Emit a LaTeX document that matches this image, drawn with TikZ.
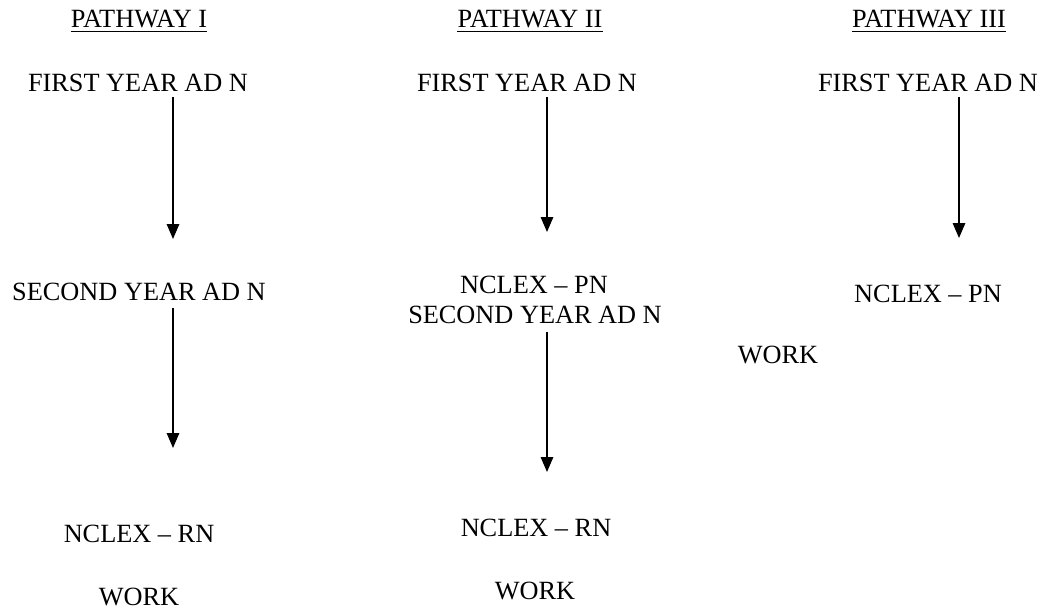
\documentclass[tikz,border=0pt]{standalone}
\usepackage{fontspec}
\setmainfont{Liberation Serif}
\usetikzlibrary{arrows.meta}
\begin{document}
\begin{tikzpicture}[x=1pt,y=-1pt,
  lbl/.style={anchor=base,inner sep=0pt,font=\fontsize{26.3}{30}\selectfont},
  hdr/.style={lbl},
  arr/.style={line width=1.6pt,-{Triangle[length=15pt,width=12.5pt]}}]
\useasboundingbox (0,0) rectangle (1044,610);
% headers
\node[hdr] (h1) at (139,28) {PATHWAY I};
\node[hdr] (h2) at (530,28) {PATHWAY II};
\node[hdr] (h3) at (929,28) {PATHWAY III};
\foreach \h in {h1,h2,h3}{
  \draw[line width=1.3pt] ([yshift=-3.5pt]\h.base west) -- ([yshift=-3.5pt]\h.base east);
}
% column 1
\node[lbl] (f1) at (138,92) {FIRST YEAR AD N};
\node[lbl] (s1) at (139,300) {SECOND YEAR AD N};
\node[lbl] (r1) at (139,542) {NCLEX -- RN};
\node[lbl] (w1) at (139,605) {WORK};
% column 2
\node[lbl] (f2) at (527,92) {FIRST YEAR AD N};
\node[lbl] (p2) at (534,293) {NCLEX -- PN};
\node[lbl] (s2) at (535,323) {SECOND YEAR AD N};
\node[lbl] (r2) at (536,536) {NCLEX -- RN};
\node[lbl] (w2) at (535,599) {WORK};
% column 3
\node[lbl] (f3) at (928,92) {FIRST YEAR AD N};
\node[lbl] (p3) at (928,302) {NCLEX -- PN};
\node[lbl] (w3) at (778,363) {WORK};
% arrow end points
\coordinate (a1s) at (173,97);  \coordinate (a1e) at (173,239);
\coordinate (b1s) at (173,308); \coordinate (b1e) at (173,448);
\coordinate (a2s) at (547,97);  \coordinate (a2e) at (547,232);
\coordinate (b2s) at (547,332); \coordinate (b2e) at (547,472);
\coordinate (a3s) at (959,97);  \coordinate (a3e) at (959,238);
\draw[arr] (a1s) -- (a1e);
\draw[arr] (b1s) -- (b1e);
\draw[arr] (a2s) -- (a2e);
\draw[arr] (b2s) -- (b2e);
\draw[arr] (a3s) -- (a3e);
\end{tikzpicture}
\end{document}
